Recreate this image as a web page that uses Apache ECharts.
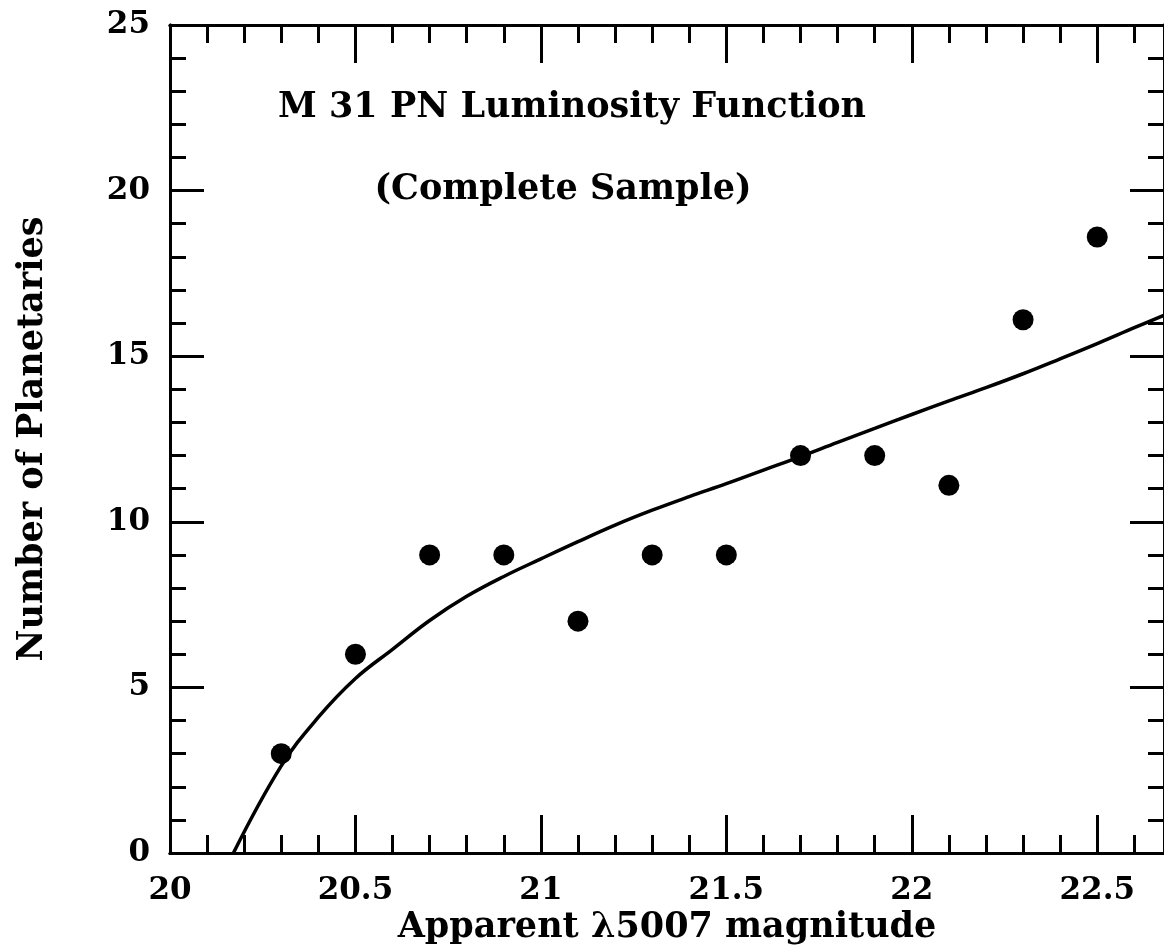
<!DOCTYPE html>
<html>
<head>
<meta charset="utf-8">
<script src="https://cdn.jsdelivr.net/npm/echarts@6/dist/echarts.min.js"></script>
<style>
  html, body { margin: 0; padding: 0; background: #fff; }
  #chart { width: 1164px; height: 949px; }
</style>
</head>
<body>
<div id="chart"></div>
<script>
// observed PN counts per 0.2 mag bin
var magBins = [20.3, 20.5, 20.7, 20.9, 21.1, 21.3, 21.5, 21.7, 21.9, 22.1, 22.3, 22.5];
var counts  = [3, 6, 9, 9, 7, 9, 9, 12, 12, 11.1, 16.1, 18.6];

// fitted luminosity function
var fitMag = [20.171, 20.3, 20.4, 20.5, 20.6, 20.7, 20.8, 20.9, 21.0, 21.1, 21.2, 21.3, 21.4, 21.5, 21.6, 21.7, 21.8, 21.9, 22.0, 22.1, 22.2, 22.3, 22.4, 22.5, 22.6, 22.681];
var fitN   = [0, 2.63, 4.1, 5.27, 6.15, 7.02, 7.75, 8.35, 8.88, 9.4, 9.9, 10.35, 10.76, 11.15, 11.56, 11.97, 12.4, 12.82, 13.24, 13.65, 14.05, 14.47, 14.92, 15.38, 15.86, 16.24];

var xMin = 20, xMax = 22.68;
var yMin = 0, yMax = 25;

var FONT = 'DejaVu Serif';
var ink = '#000';

function zip(a, b) {
  var out = [];
  for (var i = 0; i < a.length; i++) out.push([a[i], b[i]]);
  return out;
}

// one axis per tick size, the long ones carry the labels
function xAx(pos, interval, len, withLabels) {
  return {
    type: 'value', position: pos, min: xMin, max: xMax, interval: interval,
    axisLine: { show: true, onZero: false, lineStyle: { color: ink, width: 3 } },
    axisTick: { show: true, inside: true, length: len, lineStyle: { color: ink, width: 3 } },
    axisLabel: {
      show: withLabels, showMaxLabel: false, margin: 22,
      color: ink, fontFamily: FONT, fontWeight: 'bold', fontSize: 31
    },
    splitLine: { show: false }
  };
}
function yAx(pos, interval, len, withLabels) {
  return {
    type: 'value', position: pos, min: yMin, max: yMax, interval: interval,
    axisLine: { show: true, onZero: false, lineStyle: { color: ink, width: 3 } },
    axisTick: { show: true, inside: true, length: len, lineStyle: { color: ink, width: 3 } },
    axisLabel: {
      show: withLabels, margin: 20,
      color: ink, fontFamily: FONT, fontWeight: 'bold', fontSize: 31
    },
    splitLine: { show: false }
  };
}

var nameFont = { color: ink, fontFamily: FONT, fontWeight: 'bold', fontSize: 35 };

var xBottom = xAx('bottom', 0.5, 38, true);
xBottom.name = 'Apparent \u03bb5007 magnitude';
xBottom.nameLocation = 'middle';
xBottom.nameGap = 50;
xBottom.nameTextStyle = nameFont;

var yLeft = yAx('left', 5, 34, true);
yLeft.name = 'Number of Planetaries';
yLeft.nameLocation = 'middle';
yLeft.nameGap = 120;
yLeft.nameTextStyle = nameFont;

var chart = echarts.init(document.getElementById('chart'));
var option = {
  animation: false,
  backgroundColor: '#fff',
  grid: { left: 170, right: 0, top: 25, bottom: 96, containLabel: false, outerBoundsMode: 'none' },
  title: [
    { text: 'M 31 PN Luminosity Function', left: 567, top: 85, textAlign: 'center', textStyle: nameFont },
    { text: '(Complete Sample)', left: 558, top: 167, textAlign: 'center', textStyle: nameFont }
  ],
  xAxis: [
    xBottom,
    xAx('bottom', 0.1, 18, false),
    xAx('top', 0.5, 38, false),
    xAx('top', 0.1, 18, false)
  ],
  yAxis: [
    yLeft,
    yAx('left', 1, 16, false),
    yAx('right', 5, 34, false),
    yAx('right', 1, 16, false)
  ],
  series: [
    {
      name: 'fit', type: 'line', xAxisIndex: 0, yAxisIndex: 0,
      data: zip(fitMag, fitN), smooth: 0.4, showSymbol: false, clip: true,
      lineStyle: { color: ink, width: 3.5 }
    },
    {
      name: 'PNe', type: 'scatter', xAxisIndex: 0, yAxisIndex: 0,
      data: zip(magBins, counts), symbol: 'circle', symbolSize: 21,
      itemStyle: { color: ink, opacity: 1 }
    }
  ]
};
chart.setOption(option);
</script>
</body>
</html>
